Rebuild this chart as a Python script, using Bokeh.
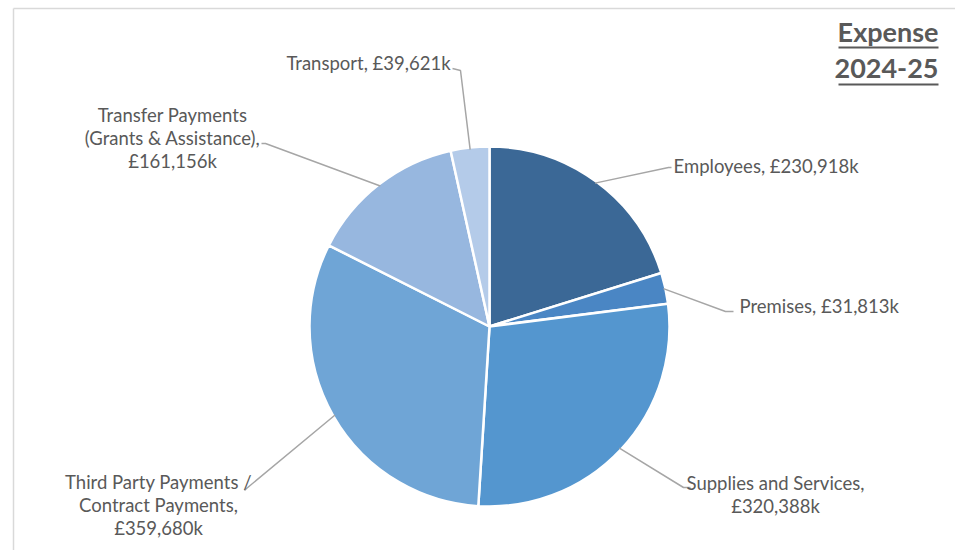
import math
from bokeh.plotting import figure
from bokeh.models import ColumnDataSource, Range1d
from bokeh.core.properties import value
from bokeh.embed import file_html
from bokeh.resources import INLINE

# ---- data ----
categories = ["Employees", "Premises", "Supplies and Services",
              "Third Party Payments / Contract Payments",
              "Transfer Payments (Grants & Assistance)", "Transport"]
values_k = [230918, 31813, 320388, 359680, 161156, 39621]
label_lines = [
    ["Employees, £230,918k"],
    ["Premises, £31,813k"],
    ["Supplies and Services,", "£320,388k"],
    ["Third Party Payments /", "Contract Payments,", "£359,680k"],
    ["Transfer Payments", "(Grants & Assistance),", "£161,156k"],
    ["Transport, £39,621k"],
]
colors = ["#3B6896", "#4A86C4", "#5496CF", "#6FA5D6", "#97B7DF", "#B4CBE9"]
title_lines = ["Expense", "2024-25"]

W, H = 955, 550
def sy(y):  # screen y -> data y
    return H - y

p = figure(width=W, height=H, output_backend="svg", toolbar_location=None,
           x_range=Range1d(0, W), y_range=Range1d(0, H), min_border=0)
p.axis.visible = False
p.grid.visible = False
p.outline_line_color = None
p.background_fill_color = "white"
p.border_fill_color = "white"

cx, cy, r = 489, sy(326), 180
total = sum(values_k)
starts, ends, mids = [], [], []
cum = 0.0
for v in values_k:
    a0 = math.pi / 2 - 2 * math.pi * cum / total
    cum += v
    a1 = math.pi / 2 - 2 * math.pi * cum / total
    starts.append(a1)
    ends.append(a0)
    mids.append((a0 + a1) / 2)

src = ColumnDataSource(dict(start=starts, end=ends, color=colors, cat=categories))
p.wedge(x=cx, y=cy, radius=r, start_angle="start", end_angle="end",
        fill_color="color", line_color="white", line_width=2.5, source=src)

# frame lines (left and top)
p.line([13, 13], [sy(8), sy(550)], line_color="#D9D9D9", line_width=1.5)
p.line([13, 955], [sy(8), sy(8)], line_color="#D9D9D9", line_width=1.5)

# leader lines: elbow/end points (layout)
leader = [
    [(668, 167), (671, 167)],
    [(725, 311), (733, 311)],
    [(683, 487), (690, 487)],
    [(246, 488), (244, 490)],
    [(265, 143), (261, 143)],
    [(460, 70), (452, 68)],
]
for m, pts in zip(mids, leader):
    x0 = cx + (r - 2) * math.cos(m)
    y0 = cy + (r - 2) * math.sin(m)
    xs = [x0] + [q[0] for q in pts]
    ys = [y0] + [sy(q[1]) for q in pts]
    p.line(xs, ys, line_color="#A6A6A6", line_width=1.5)

# labels (layout)
label_pos = [
    (673, 165, "left"),
    (739, 305, "left"),
    (775, 482, "center"),
    (158, 481, "center"),
    (172, 114, "center"),
    (368, 62, "center"),
]
lh = 23
for lines, (lx, ly, al) in zip(label_lines, label_pos):
    for i, t in enumerate(lines):
        p.text(x=[lx], y=[sy(ly + i * lh)], text=[t], text_font=value("Lato"),
               text_font_size="18.5px", text_color="#595959", text_align=al,
               text_baseline="middle")

# title with underline
for i, t in enumerate(title_lines):
    ty = 31 + i * 37
    p.text(x=[938], y=[sy(ty)], text=[t], text_font=value("Lato"),
           text_font_size="27px", text_font_style="bold", text_color="#595959",
           text_align="right", text_baseline="middle")
    p.line([838, 938], [sy(ty + 16), sy(ty + 16)], line_color="#595959", line_width=2)

open("out.html", "w").write(file_html(p, INLINE))
